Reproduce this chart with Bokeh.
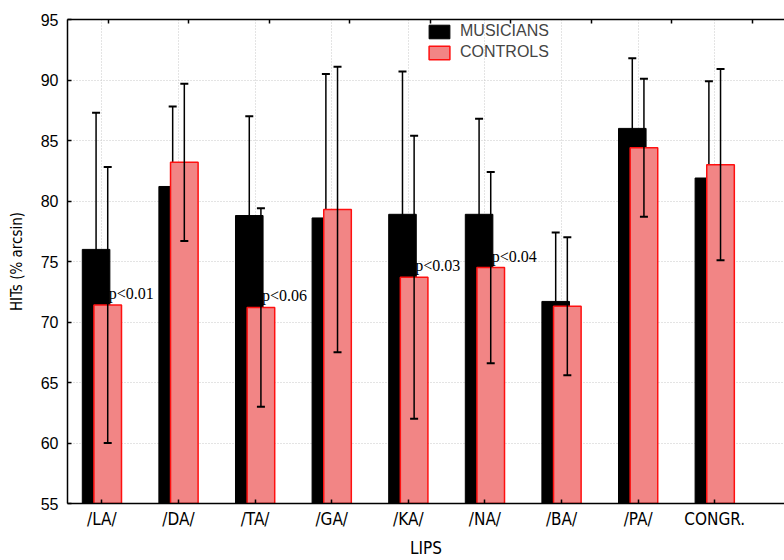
from bokeh.plotting import figure
from bokeh.models import ColumnDataSource, Range1d, FixedTicker, LinearAxis, Legend, LegendItem
from bokeh.embed import file_html
from bokeh.resources import INLINE
from bokeh.core.properties import value

# ---- data ----
categories = ["/LA/", "/DA/", "/TA/", "/GA/", "/KA/", "/NA/", "/BA/", "/PA/", "CONGR."]
musicians = [76.0, 81.2, 78.8, 78.6, 78.9, 78.9, 71.7, 86.0, 81.9]
musicians_sd = [11.3, 6.6, 8.2, 11.9, 11.8, 7.9, 5.7, 5.8, 8.0]
controls = [71.4, 83.2, 71.2, 79.3, 73.7, 74.5, 71.3, 84.4, 83.0]
controls_sd = [11.4, 6.5, 8.2, 11.8, 11.7, 7.9, 5.7, 5.7, 7.9]
p_categories = ["/LA/", "/TA/", "/KA/", "/NA/"]
p_labels = ["p<0.01", "p<0.06", "p<0.03", "p<0.04"]
y_ticks = [55, 60, 65, 70, 75, 80, 85, 90, 95]

# ---- styling ----
NARROW = "DejaVu Sans Condensed"
SANS = "Liberation Sans"
SERIF = "Liberation Serif"
OFF = 0.076
BAR_W = 0.36
RED_FILL = "#f28585"

idx = list(range(len(categories)))
xm = [i - OFF for i in idx]
xc = [i + OFF for i in idx]

src = ColumnDataSource(dict(
    xm=xm, xc=xc,
    m=musicians, m_lo=[v - s for v, s in zip(musicians, musicians_sd)],
    m_hi=[v + s for v, s in zip(musicians, musicians_sd)],
    c=controls, c_lo=[v - s for v, s in zip(controls, controls_sd)],
    c_hi=[v + s for v, s in zip(controls, controls_sd)],
))

p = figure(width=784, height=560, output_backend="svg", toolbar_location=None,
           x_range=Range1d(-0.449, 8.911), y_range=Range1d(55, 95),
           min_border_left=67, min_border_right=0, min_border_top=19, min_border_bottom=51)
p.outline_line_color = None
p.background_fill_color = "white"

# musicians bars + whiskers
r_m = p.vbar(x="xm", top="m", bottom=55, width=BAR_W, source=src,
             fill_color="black", line_color="black", line_width=1)
p.segment(x0="xm", y0="m_lo", x1="xm", y1="m_hi", source=src, line_color="black", line_width=1.5)
p.scatter(x="xm", y="m_hi", marker="dash", size=8, line_width=2, line_color="black", source=src)
p.scatter(x="xm", y="m_lo", marker="dash", size=8, line_width=2, line_color="black", source=src)

# controls bars + whiskers
r_c = p.vbar(x="xc", top="c", bottom=55, width=BAR_W, source=src,
             fill_color=RED_FILL, line_color="#ff1010", line_width=1.5)
p.segment(x0="xc", y0="c_lo", x1="xc", y1="c_hi", source=src, line_color="black", line_width=1.5)
p.scatter(x="xc", y="c_hi", marker="dash", size=8, line_width=2, line_color="black", source=src)
p.scatter(x="xc", y="c_lo", marker="dash", size=8, line_width=2, line_color="black", source=src)

# p-value annotations
p_idx = [categories.index(c) for c in p_categories]
psrc = ColumnDataSource(dict(x=[xc[i] for i in p_idx], y=[controls[i] for i in p_idx], t=p_labels))
p.text(x="x", y="y", text="t", source=psrc, x_offset=1, y_offset=-3,
       text_align="left", text_baseline="bottom",
       text_font=value(SERIF), text_font_size="16px", text_color="black")

# axes
xa = p.xaxis[0]
xa.ticker = FixedTicker(ticks=idx)
xa.major_label_overrides = {i: c for i, c in enumerate(categories)}
xa.axis_label = "LIPS"
ya = p.yaxis[0]
ya.ticker = FixedTicker(ticks=y_ticks)
ya.axis_label = "HITs (% arcsin)"

for ax in (xa, ya):
    ax.axis_line_color = "black"
    ax.axis_line_width = 1.5
    ax.major_tick_in = 4
    ax.major_tick_out = 0
    ax.major_tick_line_color = "black"
    ax.major_tick_line_width = 1.5
    ax.minor_tick_line_color = None
    ax.axis_label_text_font_style = "normal"
    ax.axis_label_text_color = "black"
    ax.major_label_text_color = "black"

xa.major_label_text_font = NARROW
xa.major_label_text_font_size = "17px"
xa.major_label_standoff = 5
xa.axis_label_text_font = NARROW
xa.axis_label_text_font_size = "17px"
xa.axis_label_standoff = 6

ya.major_label_text_font = SANS
ya.major_label_text_font_size = "16px"
ya.major_label_standoff = 9
ya.axis_label_text_font = NARROW
ya.axis_label_text_font_size = "15px"
ya.axis_label_standoff = 12

# top frame line with inward ticks (no labels)
top = LinearAxis(ticker=FixedTicker(ticks=[0.082 + 1.051 * i for i in range(9)]),
                 major_label_text_color=None, major_label_text_font_size="8px",
                 major_label_standoff=0,
                 major_tick_in=4, major_tick_out=0, major_tick_line_width=1.5,
                 minor_tick_line_color=None, axis_line_width=1.5, axis_line_color="black")
p.add_layout(top, "above")

# grids
p.xgrid.ticker = FixedTicker(ticks=idx)
p.ygrid.ticker = FixedTicker(ticks=y_ticks)
p.grid.grid_line_color = "#c8c8c8"
p.grid.grid_line_dash = "1 2"
p.grid.grid_line_width = 1

# legend
legend = Legend(items=[LegendItem(label="MUSICIANS", renderers=[r_m]),
                       LegendItem(label="CONTROLS", renderers=[r_c])],
                location=(359, 442), orientation="vertical",
                glyph_width=26, glyph_height=17, label_height=17, spacing=3,
                padding=0, margin=0, label_standoff=8,
                label_text_font=SANS, label_text_font_size="16px",
                border_line_color=None, background_fill_alpha=0)
p.add_layout(legend)

open("out.html", "w").write(file_html(p, INLINE))
